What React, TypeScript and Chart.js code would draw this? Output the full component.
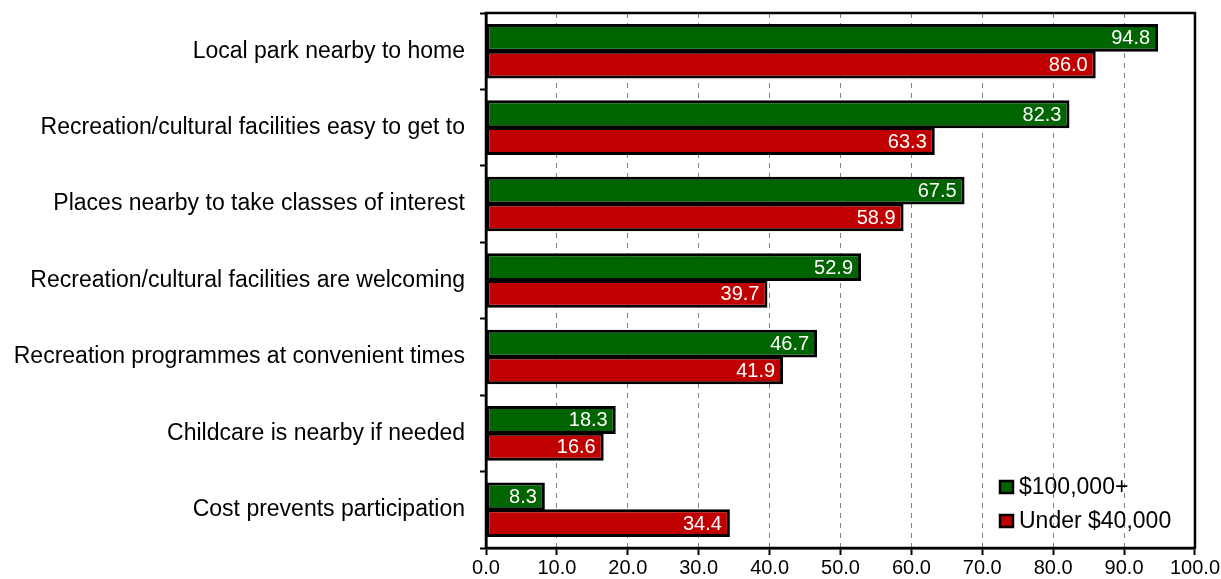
import React, { useEffect, useRef } from "react";
import { Chart, registerables } from "chart.js";

Chart.register(...registerables);

const categories = [
  "Local park nearby to home",
  "Recreation/cultural facilities easy to get to",
  "Places nearby to take classes of interest",
  "Recreation/cultural facilities are welcoming",
  "Recreation programmes at convenient times",
  "Childcare is nearby if needed",
  "Cost prevents participation",
];

const highIncome = [94.8, 82.3, 67.5, 52.9, 46.7, 18.3, 8.3];
const lowIncome = [86.0, 63.3, 58.9, 39.7, 41.9, 16.6, 34.4];

const seriesNames = ["$100,000+", "Under $40,000"];
const seriesColors = ["#006400", "#C00000"];

const FONT = "'Liberation Sans', Arial, sans-serif";

// Writes each bar's value in white just inside its right end
const valueLabels = {
  id: "valueLabels",
  afterDatasetsDraw(chart: any) {
    const ctx = chart.ctx;
    ctx.save();
    ctx.font = `20px ${FONT}`;
    ctx.fillStyle = "#ffffff";
    ctx.textAlign = "right";
    ctx.textBaseline = "middle";
    chart.data.datasets.forEach((ds: any, di: number) => {
      const meta = chart.getDatasetMeta(di);
      meta.data.forEach((bar: any, i: number) => {
        const v = ds.data[i] as number;
        ctx.fillText(v.toFixed(1), bar.x - 8, bar.y + 1);
      });
    });
    ctx.restore();
  },
};

// Legend placed in the lower right corner of the plot area
const innerLegend = {
  id: "innerLegend",
  afterDraw(chart: any) {
    const ctx = chart.ctx;
    const area = chart.chartArea;
    const x = area.left + 514;
    const rows = [area.bottom - 61, area.bottom - 27];
    ctx.save();
    ctx.font = `23px ${FONT}`;
    ctx.textAlign = "left";
    ctx.textBaseline = "middle";
    seriesNames.forEach((name, i) => {
      const y = rows[i];
      ctx.fillStyle = seriesColors[i];
      ctx.fillRect(x, y - 6, 13, 12);
      ctx.lineWidth = 2.5;
      ctx.strokeStyle = "#000000";
      ctx.strokeRect(x, y - 6, 13, 12);
      ctx.fillStyle = "#000000";
      ctx.fillText(name, x + 19, y + 1);
    });
    ctx.restore();
  },
};

// Solid black frame around the plot area
const plotFrame = {
  id: "plotFrame",
  afterDatasetsDraw(chart: any) {
    const ctx = chart.ctx;
    const a = chart.chartArea;
    ctx.save();
    ctx.lineWidth = 2.5;
    ctx.strokeStyle = "#000000";
    ctx.strokeRect(a.left, a.top, a.right - a.left, a.bottom - a.top);
    ctx.restore();
  },
};

export default function App() {
  const canvasRef = useRef<HTMLCanvasElement | null>(null);

  useEffect(() => {
    document.body.style.margin = "0";
    const canvas = canvasRef.current;
    if (!canvas) return;
    const barStyle = {
      borderColor: "#000000",
      borderWidth: 3,
      borderSkipped: false,
      barPercentage: 1.04,
      categoryPercentage: 0.7,
    };
    const chart = new Chart(canvas, {
      type: "bar",
      data: {
        labels: categories,
        datasets: [
          { label: seriesNames[0], data: highIncome, backgroundColor: seriesColors[0], ...barStyle },
          { label: seriesNames[1], data: lowIncome, backgroundColor: seriesColors[1], ...barStyle },
        ],
      },
      options: {
        indexAxis: "y",
        animation: false,
        responsive: false,
        maintainAspectRatio: false,
        layout: { padding: { top: 13, right: 26, bottom: 0, left: 0 } },
        plugins: {
          legend: { display: false },
          tooltip: { enabled: false },
        },
        scales: {
          x: {
            min: 0,
            max: 100,
            ticks: {
              stepSize: 10,
              color: "#000000",
              font: { family: FONT, size: 20 },
              padding: 1,
              callback: (v: any) => Number(v).toFixed(1),
              maxRotation: 0,
            },
            grid: {
              color: (c: any) =>
                c.tick && (c.tick.value === 0 || c.tick.value === 100) ? "rgba(0,0,0,0)" : "#808080",
              tickColor: "#000000",
              lineWidth: 1,
              tickLength: 7,
              tickWidth: 2,
            },
            border: { display: true, color: "#000000", width: 2.5 },
            afterFit: (scale: any) => {
              scale.height = 31;
            },
          },
          y: {
            ticks: {
              color: "#000000",
              font: { family: FONT, size: 23 },
              padding: 15,
            },
            grid: {
              offset: true,
              drawOnChartArea: false,
              tickColor: "#000000",
              tickLength: 6,
              tickWidth: 2,
            },
            border: { display: true, color: "#000000", width: 2.5 },
            afterFit: (scale: any) => {
              scale.width = 486;
              scale.paddingTop = 0;
              scale.paddingBottom = 0;
            },
          },
        },
      },
      plugins: [valueLabels, innerLegend, plotFrame],
    });
    // dashed vertical gridlines
    (chart.options.scales as any).x.grid.borderDash = [5, 5];
    (chart.options.scales as any).x.border.dash = [5, 5];
    chart.update();
    return () => chart.destroy();
  }, []);

  return (
    <div style={{ position: "absolute", left: 0, top: 0, width: 1221, height: 579, background: "#ffffff" }}>
      <canvas ref={canvasRef} width={1221} height={579} style={{ display: "block" }} />
    </div>
  );
}
